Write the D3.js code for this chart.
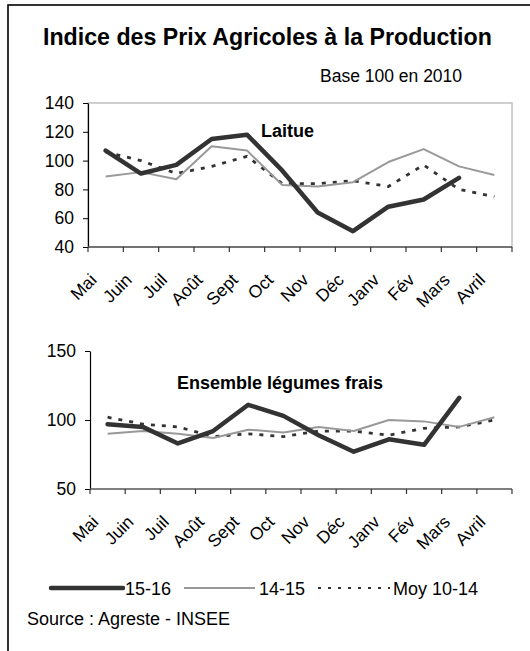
<!DOCTYPE html>
<html>
<head>
<meta charset="utf-8">
<script src="https://cdn.jsdelivr.net/npm/d3@7"></script>
<style>
  body { margin: 0; background: #fff; }
  svg { display: block; font-family: "Liberation Sans", Arial, sans-serif; }
</style>
</head>
<body>
<div id="chart"></div>
<script>
const width = 530;
const height = 651;

const months = ["Mai", "Juin", "Juil", "Août", "Sept", "Oct", "Nov", "Déc", "Janv", "Fév", "Mars", "Avril"];

// Laitue
const laitue1516 = [107, 91, 97, 115, 118, 93, 64, 51, 68, 73, 88, null];
const laitue1415 = [89, 92, 87, 110, 107, 83, 82, 85, 99, 108, 96, 90];
const laitueMoy = [106, 100, 91, 96, 103, 84, 84, 86, 82, 97, 80, 75];

// Ensemble légumes frais
const legumes1516 = [97, 95, 83, 92, 111, 103, 89, 77, 86, 82, 116, null];
const legumes1415 = [90, 92, 90, 87, 93, 91, 95, 92, 100, 99, 95, 102];
const legumesMoy = [102, 97, 95, 88, 90, 88, 92, 92, 89, 94, 95, 100];

const laitueTicks = [40, 60, 80, 100, 120, 140];
const legumesTicks = [50, 100, 150];

const styles = {
  "15-16": { stroke: "#333", width: 4.5, dash: null },
  "14-15": { stroke: "#999", width: 2, dash: null },
  "Moy 10-14": { stroke: "#333", width: 2.8, dash: "4,7" },
};

const svg = d3.select("#chart")
  .append("svg")
  .attr("width", width)
  .attr("height", height);

// frame (only left and top edges visible)
svg.append("rect")
  .attr("x", 8)
  .attr("y", 5)
  .attr("width", 560)
  .attr("height", 700)
  .attr("fill", "none")
  .attr("stroke", "#000")
  .attr("stroke-width", 1.6);

svg.append("text")
  .attr("x", 43)
  .attr("y", 45)
  .attr("font-size", 23.2)
  .attr("font-weight", "bold")
  .text("Indice des Prix Agricoles à la Production");

svg.append("text")
  .attr("x", 320)
  .attr("y", 82)
  .attr("font-size", 17.5)
  .text("Base 100 en 2010");

function drawPanel(opts) {
  const { left, right, top, bottom, domain, ticks, data, label, labelX, labelY, border } = opts;

  const x = d3.scaleBand().domain(months).range([left, right]);
  const y = d3.scaleLinear().domain(domain).range([bottom, top]);
  const g = svg.append("g");

  if (border) {
    g.append("rect")
      .attr("x", left)
      .attr("y", top)
      .attr("width", right - left)
      .attr("height", bottom - top)
      .attr("fill", "none")
      .attr("stroke", "#c0c0c0")
      .attr("stroke-width", 1.5);
  }

  // y axis
  const yAxis = g.append("g")
    .attr("transform", `translate(${left},0)`)
    .call(d3.axisLeft(y).tickValues(ticks).tickSize(5).tickPadding(9).tickSizeOuter(0));
  yAxis.select(".domain").attr("stroke", "#000").attr("stroke-width", 1.2);
  yAxis.selectAll(".tick line").attr("stroke", "#000");
  yAxis.selectAll("text")
    .attr("font-size", 17.5)
    .attr("font-family", "Liberation Sans, Arial, sans-serif")
    .attr("fill", "#000");

  // x axis: ticks at band boundaries
  const boundaries = months.map(m => x(m)).concat([right]);
  g.append("line")
    .attr("x1", left).attr("x2", right)
    .attr("y1", bottom).attr("y2", bottom)
    .attr("stroke", "#555").attr("stroke-width", 1.5);
  g.selectAll(".xtick")
    .data(boundaries)
    .join("line")
    .attr("class", "xtick")
    .attr("x1", d => d).attr("x2", d => d)
    .attr("y1", bottom).attr("y2", bottom + 5)
    .attr("stroke", "#333").attr("stroke-width", 1.2);

  g.selectAll(".xlabel")
    .data(months)
    .join("text")
    .attr("class", "xlabel")
    .attr("text-anchor", "end")
    .attr("font-size", 17.5)
    .attr("transform", d => `translate(${x(d) + x.bandwidth() / 2 - 8},${bottom + 34}) rotate(-45)`)
    .text(d => d);

  const line = d3.line()
    .defined(d => d != null)
    .x((d, i) => x(months[i]) + x.bandwidth() / 2)
    .y(d => y(d));

  // draw order: moy, 14-15, 15-16 on top
  ["Moy 10-14", "14-15", "15-16"].forEach(name => {
    const s = styles[name];
    g.append("path")
      .datum(data[name])
      .attr("fill", "none")
      .attr("stroke", s.stroke)
      .attr("stroke-width", s.width)
      .attr("stroke-linejoin", "round")
      .attr("stroke-linecap", name === "15-16" ? "round" : "butt")
      .attr("stroke-dasharray", s.dash)
      .attr("d", line);
  });

  g.append("text")
    .attr("x", labelX)
    .attr("y", labelY)
    .attr("font-size", 18)
    .attr("font-weight", "bold")
    .text(label);
}

drawPanel({
  left: 88, right: 512, top: 103, bottom: 247,
  domain: [40, 140], ticks: laitueTicks,
  data: { "15-16": laitue1516, "14-15": laitue1415, "Moy 10-14": laitueMoy },
  label: "Laitue", labelX: 261, labelY: 137, border: true,
});

drawPanel({
  left: 90, right: 512, top: 351, bottom: 489,
  domain: [50, 150], ticks: legumesTicks,
  data: { "15-16": legumes1516, "14-15": legumes1415, "Moy 10-14": legumesMoy },
  label: "Ensemble légumes frais", labelX: 177, labelY: 389, border: false,
});

// legend
const legendItems = [
  { name: "15-16", x1: 51, x2: 123, tx: 125 },
  { name: "14-15", x1: 184, x2: 255, tx: 259 },
  { name: "Moy 10-14", x1: 318, x2: 390, tx: 393 },
];
const legend = svg.append("g");
legendItems.forEach(item => {
  const s = styles[item.name];
  legend.append("line")
    .attr("x1", item.x1).attr("x2", item.x2)
    .attr("y1", 588).attr("y2", 588)
    .attr("stroke", s.stroke)
    .attr("stroke-width", item.name === "Moy 10-14" ? 2 : s.width)
    .attr("stroke-linecap", item.name === "15-16" ? "round" : "butt")
    .attr("stroke-dasharray", item.name === "Moy 10-14" ? "3,7" : null);
  legend.append("text")
    .attr("x", item.tx)
    .attr("y", 595)
    .attr("font-size", 18)
    .text(item.name);
});

svg.append("text")
  .attr("x", 27)
  .attr("y", 625)
  .attr("font-size", 18)
  .text("Source : Agreste - INSEE");
</script>
</body>
</html>
